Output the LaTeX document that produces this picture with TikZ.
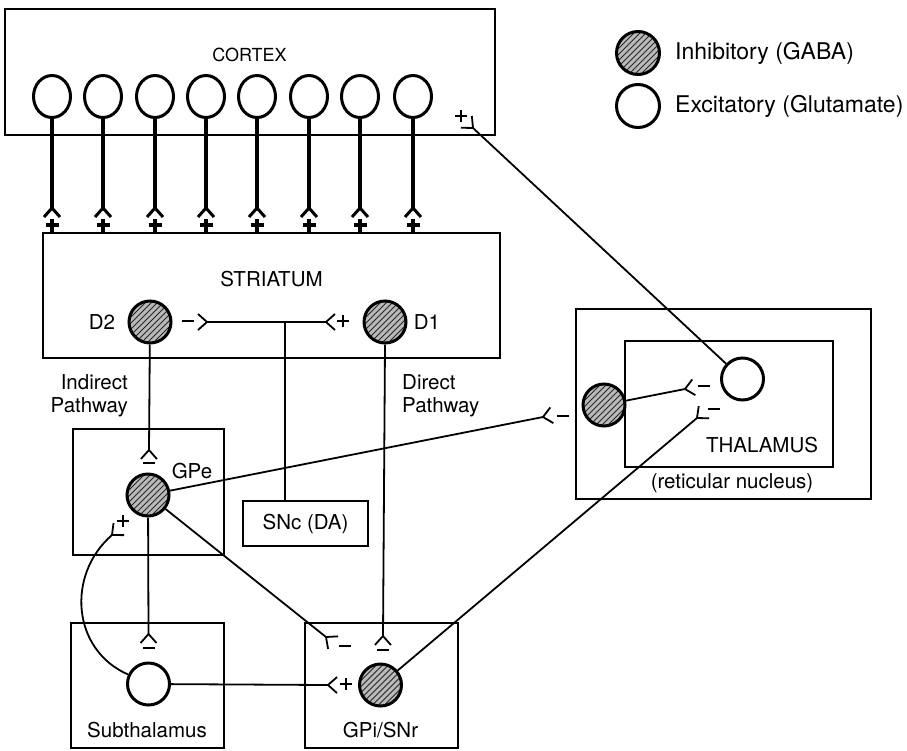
\documentclass[tikz,border=0pt]{standalone}
\usepackage{fontspec}
\setmainfont{TeX Gyre Heros}
\usetikzlibrary{shapes.geometric}
\tikzset{
  box/.style={draw, line width=1.8pt, rectangle, inner sep=0pt},
  lbl/.style={font=\fontsize{20.5}{23}\selectfont, inner sep=0pt},
  inh/.style={circle, draw, line width=3pt, minimum size=42pt, inner sep=0pt, fill=gray!55,
    path picture={\foreach \i in {-54,-48,...,54}{\draw[line width=1pt, black!85]
      ([xshift=\i pt]path picture bounding box.center) ++(-30pt,-30pt) -- ++(60pt,60pt);}}},
  exc/.style={circle, draw, line width=3pt, minimum size=42pt, inner sep=0pt, fill=white},
  cort/.style={ellipse, draw, line width=3pt, minimum width=37pt, minimum height=42pt, inner sep=0pt, fill=white},
  axon/.style={line width=3.2pt},
  conn/.style={line width=1.8pt},
  syn/.style={pos=1, sloped, allow upside down},
  fork/.pic={\draw (9pt,8pt) -- (0pt,0pt) -- (9pt,-8pt);},
  plus/.pic={\draw[line width=2.3pt] (-6pt,0pt) -- (6pt,0pt) (0pt,-6pt) -- (0pt,6pt);},
  bplus/.pic={\draw[line width=3.2pt] (-6.5pt,0pt) -- (6.5pt,0pt) (0pt,-6.5pt) -- (0pt,6.5pt);},
  minus/.pic={\draw[line width=2.3pt] (-6pt,0pt) -- (6pt,0pt);},
}
\begin{document}
\begin{tikzpicture}[x=1pt,y=-1pt]
\useasboundingbox (0,0) rectangle (907,750);
% boxes
\node[box, minimum width=490pt, minimum height=126pt] (cortex) at (250,72) {};
\node[box, minimum width=457pt, minimum height=125pt] (striatum) at (271.5,295.5) {};
\node[box, minimum width=151pt, minimum height=126pt] (gpebox) at (148.5,492) {};
\node[box, minimum width=153pt, minimum height=125pt] (stnbox) at (147.5,685.5) {};
\node[box, minimum width=153pt, minimum height=125pt] (gpibox) at (381.5,685.5) {};
\node[box, minimum width=125pt, minimum height=45pt] (snc) at (305.5,523.5) {};
\node[box, minimum width=295pt, minimum height=190pt] (retbox) at (723.5,404) {};
\node[box, minimum width=208pt, minimum height=126pt] (thalbox) at (729,404) {};
% labels
\node[lbl, font=\fontsize{18}{20}\selectfont] at (249.5,54.5) {CORTEX};
\node[lbl] at (271.5,279.5) {STRIATUM};
\node[lbl] at (102,322) {D2};
\node[lbl] at (427,322) {D1};
\node[lbl, align=right, anchor=east] at (128,395.5) {Indirect\\Pathway};
\node[lbl, align=left, anchor=west] at (402,395.5) {Direct\\Pathway};
\node[lbl] at (192,471) {GPe};
\node[lbl] at (305.5,524) {SNc (DA)};
\node[lbl] at (147,730) {Subthalamus};
\node[lbl] at (380.5,730) {GPi/SNr};
\node[lbl] at (762,445) {THALAMUS};
\node[lbl] at (732,483) {(reticular nucleus)};
% legend
\node[inh, minimum size=43pt] (leginh) at (638,53) {};
\node[exc, minimum size=43pt] (legexc) at (638,106) {};
\node[lbl, font=\fontsize{23}{25}\selectfont, anchor=west] at (675,53) {Inhibitory (GABA)};
\node[lbl, font=\fontsize{23}{25}\selectfont, anchor=west] at (675,106) {Excitatory (Glutamate)};
% neurons
\foreach \n/\x in {1/52,2/103,3/155,4/206,5/257,6/309,7/360,8/413}{
  \node[cort] (c\n) at (\x,96.5) {};
  \coordinate (fc\n) at (\x,208);
  \draw[axon] (c\n) -- (fc\n) pic[syn, line width=3pt]{fork};
  \pic at (\x,225) {bplus};
}
\node[inh] (d2) at (150,322) {};
\node[inh] (d1) at (385,322) {};
\node[inh] (gpe) at (148,495) {};
\node[exc] (stn) at (148.5,684) {};
\node[inh] (gpi) at (380.5,685) {};
\node[inh] (ret) at (604,405) {};
\node[exc] (relay) at (742.5,379) {};
% synapse coordinates
\coordinate (J) at (285,322);
\coordinate (fD2) at (207,322);
\coordinate (fD1) at (326,322);
\coordinate (fGPe) at (149,450);
\coordinate (fGPiD) at (383,636);
\coordinate (fSTN) at (148.5,634);
\coordinate (fGPeS) at (112,535);
\coordinate (fGPiE) at (326,637);
\coordinate (fGPiS) at (328,685);
\coordinate (fThG) at (697,418);
\coordinate (fRet) at (543,417);
\coordinate (fThR) at (685,389);
\coordinate (fCx) at (473,128);
% connectors
\draw[conn] (J |- snc.north) -- (J);
\draw[conn] (J) -- (fD2) pic[syn]{fork};
\draw[conn] (J) -- (fD1) pic[syn]{fork};
\pic at (188,321) {minus};
\pic at (343,321) {plus};
\draw[conn] (d2) -- (fGPe) pic[syn]{fork};
\pic at (149,463) {minus};
\draw[conn] (d1 |- d1.south) -- (fGPiD) pic[syn]{fork};
\pic at (383,650) {minus};
\draw[conn] (gpe) -- (fSTN) pic[syn]{fork};
\pic at (148.5,648) {minus};
\draw[conn] (stn.155) .. controls (72,650) and (66,575) .. (fGPeS) pic[syn]{fork};
\pic at (123,521) {plus};
\draw[conn] (gpe) -- (fGPiE) pic[syn]{fork};
\pic at (345,646) {minus};
\draw[conn] (stn) -- (fGPiS) pic[syn]{fork};
\pic at (346,684) {plus};
\draw[conn] (gpi) -- (fThG) pic[syn]{fork};
\pic at (714,409) {minus};
\draw[conn] (gpe) -- (fRet) pic[syn]{fork};
\pic at (563,416) {minus};
\draw[conn] (ret) -- (fThR) pic[syn]{fork};
\pic at (704,386) {minus};
\draw[conn] (relay) -- (fCx) pic[syn]{fork};
\pic at (461,116) {plus};
\end{tikzpicture}
\end{document}
